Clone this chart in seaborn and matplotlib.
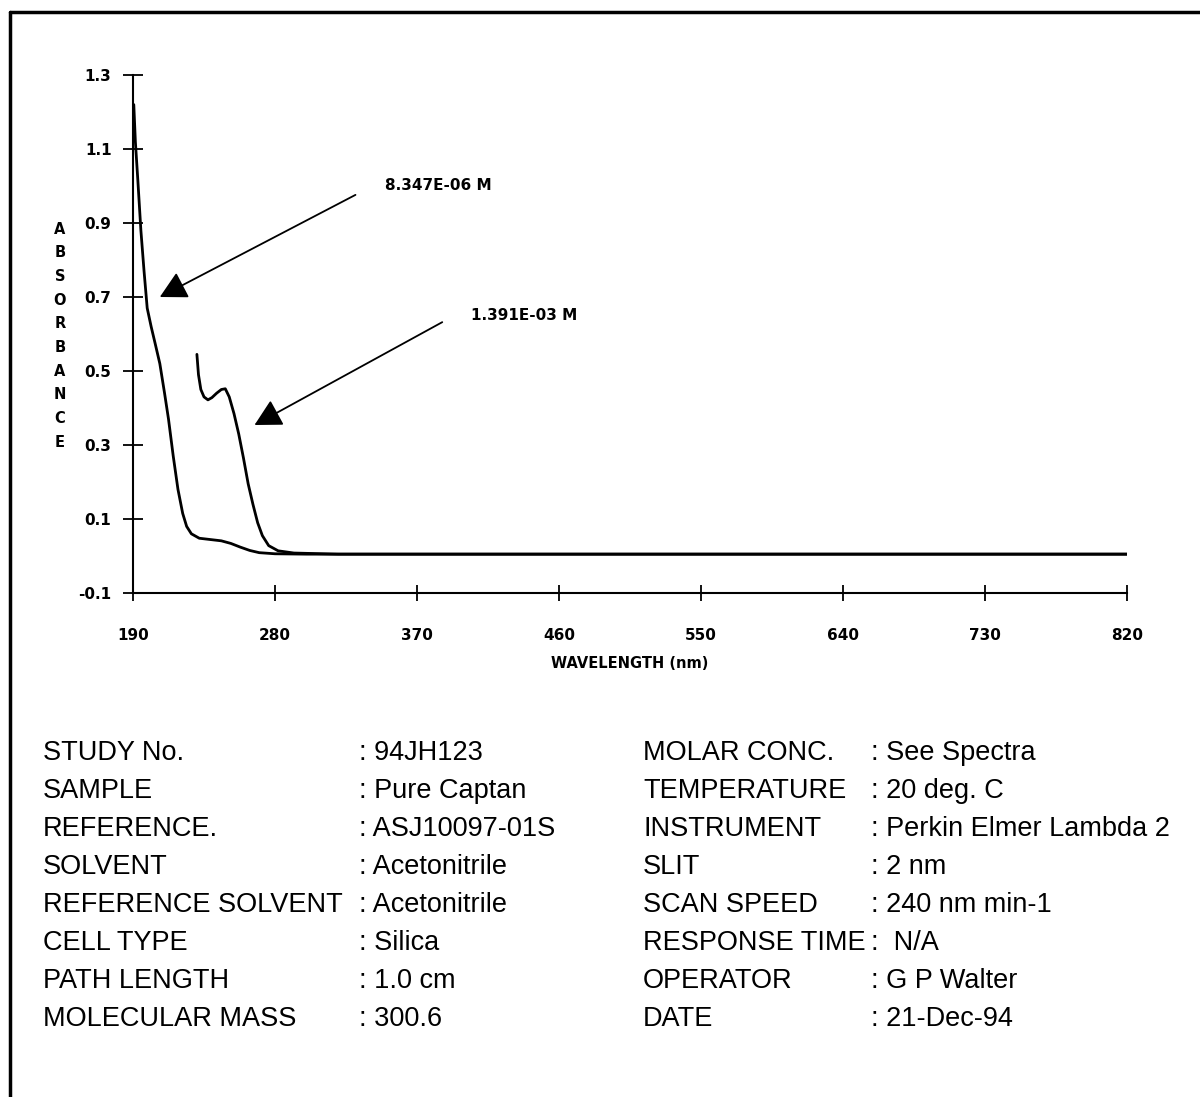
import numpy as np
import pandas as pd
import matplotlib
matplotlib.use("Agg")
import matplotlib.pyplot as plt
import seaborn as sns

# spectra
wl_low = [190.5, 191.5, 193, 195, 197, 199, 201.5, 204, 207, 210, 212.5, 215.5, 218.5,
          221.5, 224, 227, 232, 240, 246, 252, 258, 264, 270, 280, 300, 400, 500, 600, 700, 820]
abs_low = [1.22, 1.12, 1.02, 0.88, 0.77, 0.67, 0.62, 0.575, 0.52, 0.44, 0.37, 0.27, 0.18,
           0.115, 0.08, 0.06, 0.048, 0.044, 0.041, 0.034, 0.024, 0.015, 0.009, 0.006, 0.005,
           0.005, 0.005, 0.005, 0.005, 0.005]

wl_high = [230.5, 231.5, 233, 235, 237.5, 240, 243, 246, 248.5, 251, 254, 257, 260, 263,
           266, 269, 272, 276, 282, 292, 320, 820]
abs_high = [0.545, 0.49, 0.45, 0.43, 0.422, 0.428, 0.44, 0.45, 0.452, 0.43, 0.385, 0.33,
            0.265, 0.195, 0.14, 0.09, 0.055, 0.028, 0.014, 0.008, 0.005, 0.005]

conc_labels = ["8.347E-06 M", "1.391E-03 M"]
x_ticks = [190, 280, 370, 460, 550, 640, 730, 820]
y_ticks = [-0.1, 0.1, 0.3, 0.5, 0.7, 0.9, 1.1, 1.3]

left_keys = ["STUDY No.", "SAMPLE", "REFERENCE.", "SOLVENT", "REFERENCE SOLVENT",
             "CELL TYPE", "PATH LENGTH", "MOLECULAR MASS"]
left_vals = [": 94JH123", ": Pure Captan", ": ASJ10097-01S", ": Acetonitrile",
             ": Acetonitrile", ": Silica", ": 1.0 cm", ": 300.6"]
right_keys = ["MOLAR CONC.", "TEMPERATURE", "INSTRUMENT", "SLIT", "SCAN SPEED",
              "RESPONSE TIME", "OPERATOR", "DATE"]
right_vals = [": See Spectra", ": 20 deg. C", ": Perkin Elmer Lambda 2", ": 2 nm",
              ": 240 nm min-1", ":  N/A", ": G P Walter", ": 21-Dec-94"]

sns.set_style("white")
plt.rcParams["font.family"] = ["DejaVu Sans"]
plt.rcParams["text.color"] = "black"
plt.rcParams["xtick.color"] = "black"
plt.rcParams["ytick.color"] = "black"

W, H = 1200, 1097
fig = plt.figure(figsize=(W / 100, H / 100), dpi=100)
fig.patch.set_facecolor("white")

ax = fig.add_axes([133 / W, 1 - 593 / H, 994 / W, 518 / H])

df = pd.concat([
    pd.DataFrame({"wl": wl_low, "A": abs_low, "conc": conc_labels[0]}),
    pd.DataFrame({"wl": wl_high, "A": abs_high, "conc": conc_labels[1]}),
])
sns.lineplot(data=df, x="wl", y="A", units="conc", estimator=None, sort=False,
             color="black", linewidth=2.0, ax=ax)

ax.set_xlim(190, 820)
ax.set_ylim(-0.1, 1.3)
ax.set_xticks(x_ticks)
ax.set_yticks(y_ticks)
ax.set_xticklabels([str(t) for t in x_ticks], fontweight="bold", fontsize=11)
ax.set_yticklabels([f"{t:.1f}" for t in y_ticks], fontweight="bold", fontsize=11)
ax.tick_params(axis="both", direction="inout", width=1.3, color="black",
               bottom=True, left=True, labelcolor="black")
ax.tick_params(axis="x", pad=19, length=12)
ax.tick_params(axis="y", pad=8, length=15)
for s in ["top", "right"]:
    ax.spines[s].set_visible(False)
for s in ["left", "bottom"]:
    ax.spines[s].set_linewidth(1.5)
    ax.spines[s].set_color("black")
ax.set_xlabel("")
ax.set_ylabel("")

# arrows and labels for the two concentrations
arrow = dict(arrowstyle="-|>,head_length=0.75,head_width=0.4", color="black",
             lw=1.3, mutation_scale=22, shrinkA=0, shrinkB=0)
ax.annotate("", xy=(207, 0.70), xytext=(331, 0.976), arrowprops=arrow)
ax.annotate("", xy=(267, 0.354), xytext=(386, 0.632), arrowprops=arrow)
ax.text(350, 1.0, conc_labels[0], fontsize=11, fontweight="bold", va="center", ha="left")
ax.text(404, 0.651, conc_labels[1], fontsize=11, fontweight="bold", va="center", ha="left")

fig.text(630 / W, 1 - 664 / H, "WAVELENGTH (nm)", fontsize=10.5, fontweight="bold",
         ha="center", va="center")
for i, ch in enumerate("ABSORBANCE"):
    fig.text(60 / W, 1 - (229 + i * 23.7) / H, ch, fontsize=10.5, fontweight="bold",
             ha="center", va="center")

# info table
tkw = dict(fontsize=19.5, family="Liberation Sans", va="center")
for i in range(len(left_keys)):
    y = 1 - (753 + i * 38) / H
    fig.text(43 / W, y, left_keys[i], **tkw)
    fig.text(359 / W, y, left_vals[i], **tkw)
    fig.text(643 / W, y, right_keys[i], **tkw)
    fig.text(871 / W, y, right_vals[i], **tkw)

# page frame (top and left edges visible)
fig.add_artist(plt.Line2D([10 / W, 1], [1 - 12 / H, 1 - 12 / H], color="black", lw=2.5,
                          transform=fig.transFigure))
fig.add_artist(plt.Line2D([10 / W, 10 / W], [0, 1 - 12 / H], color="black", lw=2.5,
                          transform=fig.transFigure))

fig.savefig("out.png", dpi=100)
